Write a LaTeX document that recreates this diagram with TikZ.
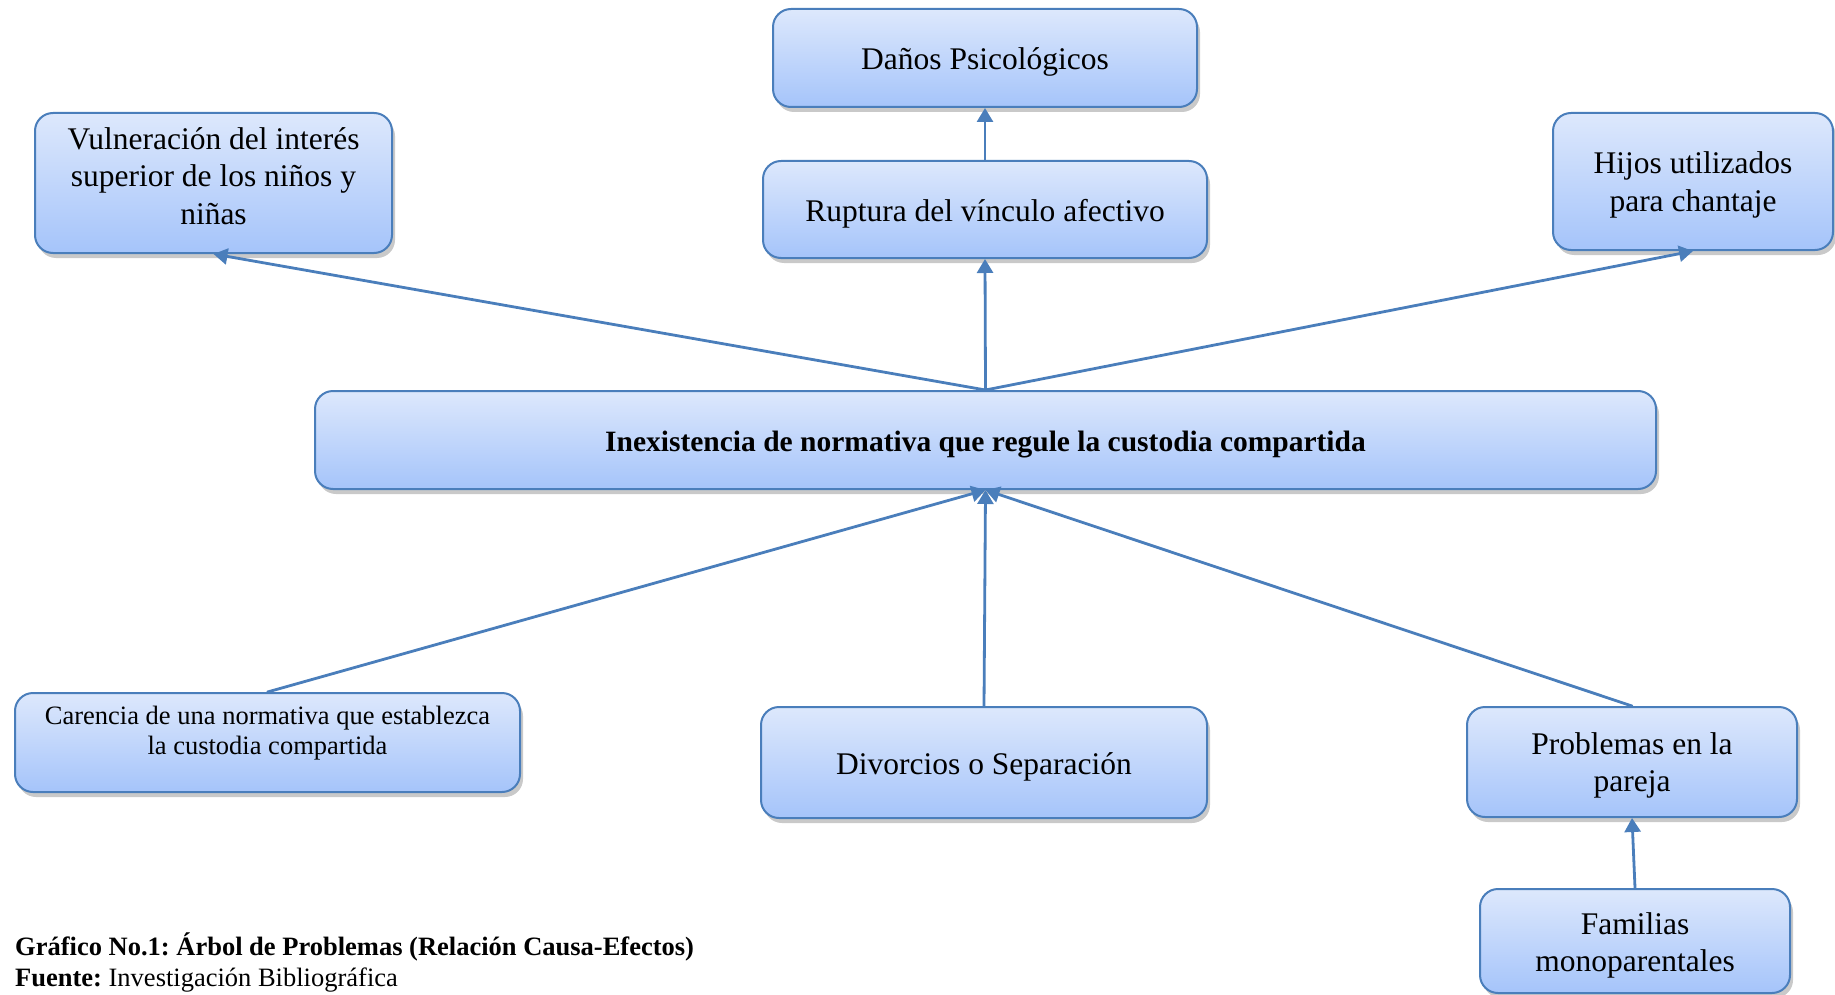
\documentclass[tikz,border=0pt]{standalone}
\usepackage{fontspec}
\setmainfont{Liberation Serif}
\usepackage{tikz}
\usetikzlibrary{arrows.meta}
\usetikzlibrary{shadows}
\definecolor{borde}{HTML}{4A7EBB}
\definecolor{claro}{HTML}{DDE8FC}
\definecolor{oscuro}{HTML}{A5C4FA}
\frenchspacing

\begin{document}
\begin{tikzpicture}[x=1pt,y=-1pt,line cap=round,line join=round,
    caja/.style={draw=borde,line width=2pt,rounded corners=18pt,top color=claro,bottom color=oscuro,
      align=center,inner sep=0pt,drop shadow={shadow xshift=3pt,shadow yshift=-5pt,opacity=0.3,fill=black!70}},
    grande/.style={font=\fontsize{31.5}{37.5}\selectfont},
    unalinea/.style={text height=31pt,text depth=7pt},
    flecha/.style={draw=borde,line width=2.8pt,-{Triangle[length=14pt,width=16pt]}}]
      \useasboundingbox (0,0) rectangle (1835,995);
      \node[caja,grande,unalinea,minimum width=424pt,minimum height=98pt] (danos) at (985,58) {Daños Psicológicos};
      \node[caja,grande,unalinea,minimum width=444pt,minimum height=97pt] (ruptura) at (985,209.5) {Ruptura del vínculo afectivo};
      \node[caja,grande,minimum width=357pt,minimum height=140pt] (vulnera) at (213.5,183) {Vulneración del interés\\superior de los niños y\\niñas\rule[-14pt]{0pt}{14pt}};
      \node[caja,grande,minimum width=280pt,minimum height=137pt] (hijos) at (1693,181.5) {\rule{0pt}{28.5pt}Hijos utilizados\\para chantaje};
      \node[caja,font=\fontsize{29.5}{35}\selectfont\bfseries,text height=29pt,text depth=5.5pt,minimum width=1341pt,minimum height=98pt] (central) at (985.5,440) {Inexistencia de normativa que regule la custodia compartida};
      \node[caja,font=\fontsize{26.5}{30.5}\selectfont,minimum width=505pt,minimum height=99pt] (carencia) at (267.5,742.5) {Carencia de una normativa que establezca\\la custodia compartida\rule[-24pt]{0pt}{24pt}};
      \node[caja,grande,unalinea,minimum width=446pt,minimum height=111pt] (divorcio) at (984,762.5) {Divorcios o Separación};
      \node[caja,grande,minimum width=330pt,minimum height=110pt] (pareja) at (1632,762) {\rule{0pt}{28.5pt}Problemas en la\\pareja};
      \node[caja,grande,minimum width=310pt,minimum height=104pt] (familias) at (1635,941) {\rule{0pt}{31pt}Familias\\monoparentales};
      \draw[flecha] (central.north) -- (vulnera.south);
      \draw[flecha] (central.north) -- (ruptura.south);
      \draw[flecha] (central.north) -- (hijos.south);
      \draw[flecha] (ruptura.north) -- (danos.south);
      \draw[flecha] (carencia.north) -- (central.south);
      \draw[flecha] (divorcio.north) -- (central.south);
      \draw[flecha] (pareja.north) -- (central.south);
      \draw[flecha] (familias.north) -- (pareja.south);
      \node[anchor=base west,inner sep=0pt,font=\fontsize{26.5}{31}\selectfont] (grafico) at (15,955) {\textbf{Gráfico No.1: Árbol de Problemas (Relación Causa-Efectos)}};
      \node[anchor=base west,inner sep=0pt,font=\fontsize{26.5}{31}\selectfont] (fuente) at (15,986) {\textbf{Fuente:} Investigación Bibliográfica};
    \end{tikzpicture}
\end{document}
